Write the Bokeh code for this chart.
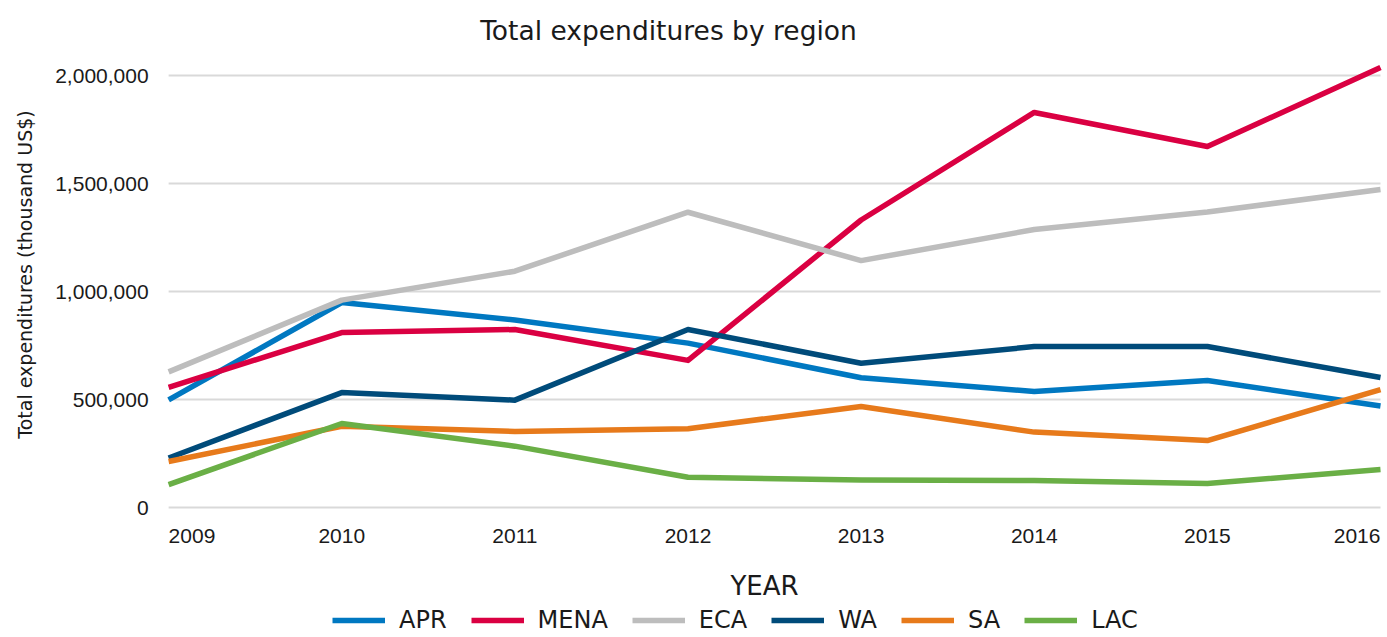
import math
from bokeh.plotting import figure
from bokeh.models import (Range1d, Legend, LegendItem, Label, LabelSet, ColumnDataSource)
from bokeh.core.properties import value
from bokeh.embed import file_html
from bokeh.resources import INLINE

years = [2009, 2010, 2011, 2012, 2013, 2014, 2015, 2016]
year_labels = ["2009", "2010", "2011", "2012", "2013", "2014", "2015", "2016"]

apr = [498000, 949000, 868000, 761000, 601000, 537000, 588000, 470000]
mena = [556000, 810000, 824000, 681000, 1331000, 1829000, 1671000, 2037000]
eca = [628000, 960000, 1094000, 1367000, 1143000, 1287000, 1368000, 1472000]
wa = [229000, 532000, 497000, 824000, 668000, 745000, 745000, 602000]
sa = [213000, 376000, 352000, 365000, 468000, 349000, 310000, 546000]
lac = [106000, 389000, 284000, 140000, 127000, 125000, 111000, 176000]

series_names = ["APR", "MENA", "ECA", "WA", "SA", "LAC"]
series_values = [apr, mena, eca, wa, sa, lac]
series_colors = ["#0078C1", "#DA0042", "#BDBDBD", "#004B7A", "#E77A1B", "#6AAF46"]

y_ticks = [0, 500000, 1000000, 1500000, 2000000]
y_tick_labels = ["0", "500,000", "1,000,000", "1,500,000", "2,000,000"]

TXT = "#1A1A1A"
W, H = 1387, 637

# Frame fills the whole canvas so that no text is clipped; ranges place the data area.
p = figure(width=W, height=H, output_backend="svg", toolbar_location=None,
           x_range=Range1d(2009 - 168 / 173.0, 2016 + (W - 1380) / 173.0),
           y_range=Range1d(-(H - 507) / 216.0 * 1e6, 507 / 216.0 * 1e6),
           min_border_left=0, min_border_right=0, min_border_top=0, min_border_bottom=0)
p.outline_line_color = None
p.xaxis.visible = False
p.yaxis.visible = False
p.xgrid.grid_line_color = None
p.ygrid.grid_line_color = None

# horizontal gridlines across the data area
p.segment(x0=[years[0]] * len(y_ticks), x1=[years[-1]] * len(y_ticks), y0=y_ticks, y1=y_ticks,
          line_color="#D9D9D9", line_width=2)

items = []
for name, vals, col in zip(series_names, series_values, series_colors):
    r = p.line(years, vals, line_color=col, line_width=5.5, line_join="round", line_cap="butt")
    items.append(LegendItem(label=name, renderers=[r]))

legend = Legend(items=items, orientation="horizontal", location=(332, 3),
                border_line_color=None, background_fill_alpha=0, padding=0, margin=0,
                spacing=24, glyph_width=53, glyph_height=20, label_height=20,
                label_standoff=14, label_text_font="DejaVu Sans",
                label_text_font_size="24px", label_text_color=TXT,
                label_text_baseline="middle")
p.add_layout(legend)

# y tick labels
ysrc = ColumnDataSource(dict(x=[years[0]] * len(y_ticks), y=y_ticks, text=y_tick_labels))
p.add_layout(LabelSet(x="x", y="y", text="text", source=ysrc, x_offset=-20,
                      text_align="right", text_baseline="middle",
                      text_font=value("Liberation Sans"), text_font_size="21px",
                      text_color=TXT))

# x tick labels
xsrc = ColumnDataSource(dict(x=years, y=[H - 535] * len(years), text=year_labels,
                             align=["left"] + ["center"] * (len(years) - 2) + ["right"]))
p.add_layout(LabelSet(x="x", y="y", y_units="screen", text="text", source=xsrc,
                      text_align="align", text_baseline="middle",
                      text_font=value("Liberation Sans"), text_font_size="21px",
                      text_color=TXT))

p.add_layout(Label(x=668, y=H - 30, x_units="screen", y_units="screen",
                   text="Total expenditures by region", text_align="center",
                   text_baseline="middle", text_font="DejaVu Sans",
                   text_font_size="26.5px", text_color=TXT))
p.add_layout(Label(x=764, y=H - 585, x_units="screen", y_units="screen",
                   text="YEAR", text_align="center", text_baseline="middle",
                   text_font="DejaVu Sans", text_font_size="26px", text_color=TXT))
p.add_layout(Label(x=24, y=H - 274, x_units="screen", y_units="screen", angle=math.pi / 2,
                   text="Total expenditures (thousand US$)", text_align="center",
                   text_baseline="middle", text_font="DejaVu Sans",
                   text_font_size="19px", text_color=TXT))

open("out.html", "w").write(file_html(p, INLINE))
